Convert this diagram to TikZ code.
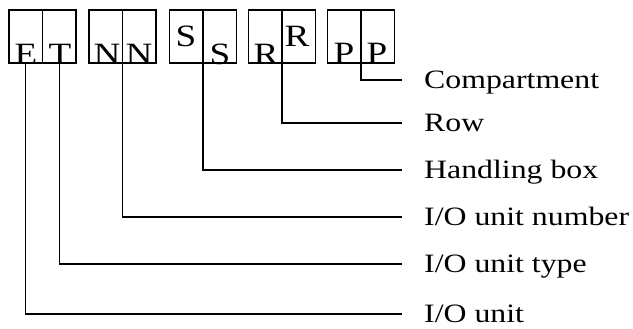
\documentclass[tikz,border=0pt]{standalone}
\usepackage{fontspec}
\setmainfont{Liberation Serif}[FakeStretch=1.2]
\begin{document}
\begin{tikzpicture}[x=1pt,y=-1pt,
  half/.style={draw,line width=1.4pt,minimum width=33.5pt,minimum height=53pt,inner sep=0pt,outer sep=0pt},
  letter/.style={font=\fontsize{31}{31}\selectfont,inner sep=0pt,anchor=base},
  lbl/.style={font=\fontsize{26.5}{26.5}\selectfont,inner sep=0pt,anchor=west,text height=20pt,text depth=3pt},
  conn/.style={line width=1.3pt}]
\useasboundingbox (0,0) rectangle (633,329);
% boxes
\node[half] (b1l) at (25.75,36.5) {};
\node[half] (b1r) at (59.25,36.5) {};
\node[half] (b2l) at (105.75,36.5) {};
\node[half] (b2r) at (139.25,36.5) {};
\node[half] (b3l) at (186.25,36.5) {};
\node[half] (b3r) at (219.75,36.5) {};
\node[half] (b4l) at (265.25,36.5) {};
\node[half] (b4r) at (298.75,36.5) {};
\node[half] (b5l) at (344.25,36.5) {};
\node[half] (b5r) at (377.75,36.5) {};
% letters
\node[letter] (tE) at (26,65) {E};
\node[letter] (tT) at (60,65) {T};
\node[letter] (tN1) at (107,65) {N};
\node[letter] (tN2) at (139,65) {N};
\node[letter] (tS1) at (186,47) {S};
\node[letter] (tS2) at (220,65) {S};
\node[letter] (tR1) at (266,65) {R};
\node[letter] (tR2) at (297,47) {R};
\node[letter] (tP1) at (344,64) {P};
\node[letter] (tP2) at (377,64) {P};
% labels
\node[lbl] (lC) at (424,80) {Compartment};
\node[lbl] (lR) at (424,123) {Row};
\node[lbl] (lH) at (424,170) {Handling box};
\node[lbl] (lN) at (424,217) {I/O unit number};
\node[lbl] (lT) at (424,264) {I/O unit type};
\node[lbl] (lU) at (424,314) {I/O unit};
% connectors
\draw[conn] (b5l.south east) |- ([xshift=-22pt]lC.west);
\draw[conn] (b4l.south east) |- ([xshift=-22pt]lR.west);
\draw[conn] (b3l.south east) |- ([xshift=-22pt]lH.west);
\draw[conn] (b2l.south east) |- ([xshift=-22pt]lN.west);
\draw[conn] (b1r.south) |- ([xshift=-22pt]lT.west);
\draw[conn] (b1l.south) |- ([xshift=-22pt]lU.west);
\end{tikzpicture}
\end{document}
